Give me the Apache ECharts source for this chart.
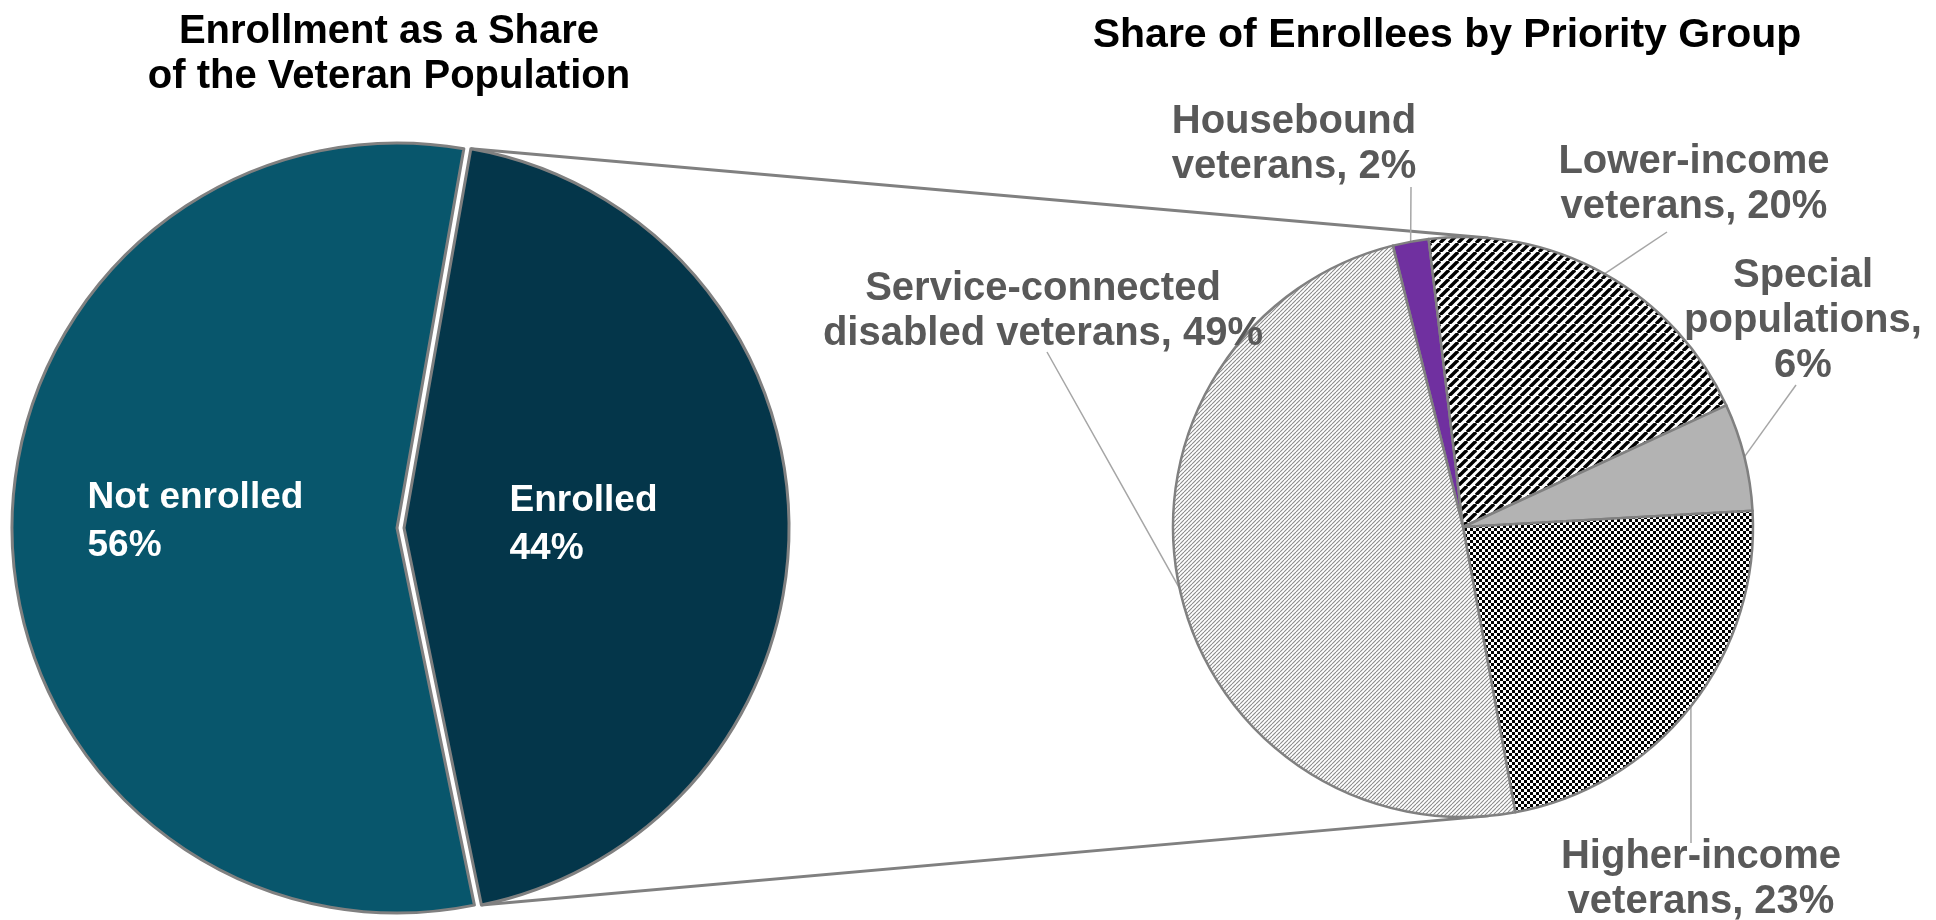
<!DOCTYPE html>
<html>
<head>
<meta charset="utf-8">
<style>
  html, body { margin: 0; padding: 0; background: #ffffff; }
  #chart { width: 1936px; height: 920px; }
</style>
<script src="https://cdn.jsdelivr.net/npm/echarts@6/dist/echarts.min.js"></script>
</head>
<body>
<div id="chart"></div>
<script>
// ---------------- DATA ----------------
const leftTitle = 'Enrollment as a Share\nof the Veteran Population';
const rightTitle = 'Share of Enrollees by Priority Group';

const leftCategories = ['Enrolled', 'Not enrolled'];
const leftValues = [44, 56];

const rightCategories = [
  'Housebound\nveterans',
  'Lower-income\nveterans',
  'Special\npopulations',
  'Higher-income\nveterans',
  'Service-connected\ndisabled veterans'
];
const rightValues = [2, 20, 6, 23, 49];
const rightValueSeparators = [', ', ', ', ',\n', ', ', ', '];

// ---------------- LAYOUT / STYLE ----------------
const FONT = '"Liberation Sans", Arial, sans-serif';
const L = { cx: 397, cy: 528, r: 385, startFromNorth: 10, explode: 7 };
const R = { cx: 1463, cy: 527, r: 290, startFromNorth: -14 };

// label placement of the right pie relative to its centre: label centre (lx,ly), leader end (ex,ey)
const rightLabelPlacement = [
  { lx: -169, ly: -383, ex: -52, ey: -340 },
  { lx: 231, ly: -343, ex: 204, ey: -295 },
  { lx: 340, ly: -206, ex: 333, ey: -142 },
  { lx: 238, ly: 352, ex: 228, ey: 316 },
  { lx: -420, ly: -216, ex: -416, ey: -175 }
];

function pt(c, r, degFromNorth) {
  const a = degFromNorth * Math.PI / 180;
  return [c.cx + r * Math.sin(a), c.cy - r * Math.cos(a)];
}

// patterns
function makePattern(size, draw) {
  const c = document.createElement('canvas');
  c.width = size; c.height = size;
  const ctx = c.getContext('2d');
  ctx.fillStyle = '#ffffff';
  ctx.fillRect(0, 0, size, size);
  draw(ctx, size);
  return { image: c, repeat: 'repeat' };
}
function diag(ctx, s, color, w, up) {
  ctx.strokeStyle = color; ctx.lineWidth = w;
  for (let k = -1; k <= 1; k++) {
    ctx.beginPath();
    if (up) { ctx.moveTo(k * s, s); ctx.lineTo(k * s + s, 0); }
    else { ctx.moveTo(k * s, 0); ctx.lineTo(k * s + s, s); }
    ctx.stroke();
  }
}
const patWide = makePattern(9, (ctx, s) => diag(ctx, s, '#000000', 3.4, true));
const patFine = makePattern(4, (ctx, s) => diag(ctx, s, '#8a8a8a', 1.1, true));
const patChecker = makePattern(6, (ctx, s) => {
  ctx.fillStyle = '#000000';
  ctx.fillRect(0, 0, 3, 3); ctx.fillRect(3, 3, 3, 3);
});
const rightFills = [ '#7030a0', patWide, '#b3b3b3', patChecker, patFine ];
const leftFills = ['#04364a', '#08566c'];

// ---------------- DERIVED GEOMETRY ----------------
const totalR = rightValues.reduce((a, b) => a + b, 0);
const rightMid = [];
{
  let acc = 0;
  rightValues.forEach(v => {
    rightMid.push(R.startFromNorth + (acc + v / 2) / totalR * 360);
    acc += v;
  });
}
const totalL = leftValues.reduce((a, b) => a + b, 0);
const enrolledSpan = leftValues[0] / totalL * 360;
const enrolledStart = L.startFromNorth;
const enrolledEnd = L.startFromNorth + enrolledSpan;
const enrolledMid = (enrolledStart + enrolledEnd) / 2;
const off = [L.explode * Math.sin(enrolledMid * Math.PI / 180), -L.explode * Math.cos(enrolledMid * Math.PI / 180)];
const topStart = pt(L, L.r, enrolledStart); topStart[0] += off[0]; topStart[1] += off[1];
const botStart = pt(L, L.r, enrolledEnd); botStart[0] += off[0]; botStart[1] += off[1];

function tangent(P, C, r, wantTop) {
  const dx = P[0] - C.cx, dy = P[1] - C.cy;
  const d = Math.hypot(dx, dy);
  const base = Math.atan2(dy, dx);
  const a = Math.acos(r / d);
  const t1 = [C.cx + r * Math.cos(base + a), C.cy + r * Math.sin(base + a)];
  const t2 = [C.cx + r * Math.cos(base - a), C.cy + r * Math.sin(base - a)];
  if (wantTop) return t1[1] < t2[1] ? t1 : t2;
  return t1[1] > t2[1] ? t1 : t2;
}
const topEnd = tangent(topStart, R, R.r, true);
const botEnd = tangent(botStart, R, R.r, false);

// ---------------- CHART ----------------
const chart = echarts.init(document.getElementById('chart'), null, { renderer: 'canvas' });

const titleStyle = { fontFamily: FONT, fontWeight: 'bold', fontSize: 40, lineHeight: 45, color: '#000000' };
const leftLabelRich = (w) => ({ a: { fontFamily: FONT, fontWeight: 'bold', fontSize: 37, lineHeight: 48, color: '#ffffff', align: 'left', width: w } });

chart.setOption({
  animation: false,
  backgroundColor: '#ffffff',
  title: [
    { text: leftTitle, left: 384, top: 4, textAlign: 'center', textStyle: titleStyle },
    { text: rightTitle, left: 1442, top: 8, textAlign: 'center', textStyle: Object.assign({}, titleStyle, { fontSize: 41 }) }
  ],
  graphic: [
    { type: 'line', z: 0, silent: true,
      shape: { x1: topStart[0], y1: topStart[1], x2: topEnd[0], y2: topEnd[1] },
      style: { stroke: '#808080', lineWidth: 3 } },
    { type: 'line', z: 0, silent: true,
      shape: { x1: botStart[0], y1: botStart[1], x2: botEnd[0], y2: botEnd[1] },
      style: { stroke: '#808080', lineWidth: 3 } }
  ],
  series: [
    {
      type: 'pie',
      center: [L.cx, L.cy],
      radius: L.r,
      startAngle: 90 - L.startFromNorth,
      clockwise: true,
      selectedMode: 'single',
      selectedOffset: L.explode,
      avoidLabelOverlap: false,
      emphasis: { disabled: true },
      itemStyle: { borderColor: '#808080', borderWidth: 3 },
      label: {
        show: true,
        position: 'inside',
        formatter: p => '{a|' + p.name + '}\n{a|' + p.value + '%}',
        rich: leftLabelRich(180)
      },
      labelLine: { show: false },
      data: leftCategories.map((n, i) => ({
        name: n, value: leftValues[i], selected: i === 0,
        itemStyle: { color: leftFills[i] },
        label: i === 1 ? { rich: leftLabelRich(228), padding: [0, 0, 18, 0] } : {}
      }))
    },
    {
      type: 'pie',
      center: [R.cx, R.cy],
      radius: R.r,
      startAngle: 90 - R.startFromNorth,
      clockwise: true,
      avoidLabelOverlap: false,
      emphasis: { disabled: true },
      itemStyle: { borderColor: '#808080', borderWidth: 2.5 },
      label: {
        show: true,
        position: 'outside',
        formatter: p => p.name + rightValueSeparators[p.dataIndex] + p.value + '%',
        fontFamily: FONT, fontWeight: 'bold', fontSize: 40, lineHeight: 45,
        color: '#595959', align: 'center'
      },
      labelLine: { show: true, length: 10, length2: 0, smooth: false,
        lineStyle: { color: '#a6a6a6', width: 1.5 } },
      labelLayout: function (params) {
        const i = params.dataIndex;
        const p = rightLabelPlacement[i];
        const s = pt(R, R.r, rightMid[i]);
        const e = [R.cx + p.ex, R.cy + p.ey];
        const m = [(s[0] + e[0]) / 2, (s[1] + e[1]) / 2];
        return {
          x: R.cx + p.lx, y: R.cy + p.ly,
          align: 'center', verticalAlign: 'middle',
          labelLinePoints: [s, m, e]
        };
      },
      data: rightCategories.map((n, i) => ({
        name: n, value: rightValues[i], itemStyle: { color: rightFills[i] }
      }))
    }
  ]
});
</script>
</body>
</html>
